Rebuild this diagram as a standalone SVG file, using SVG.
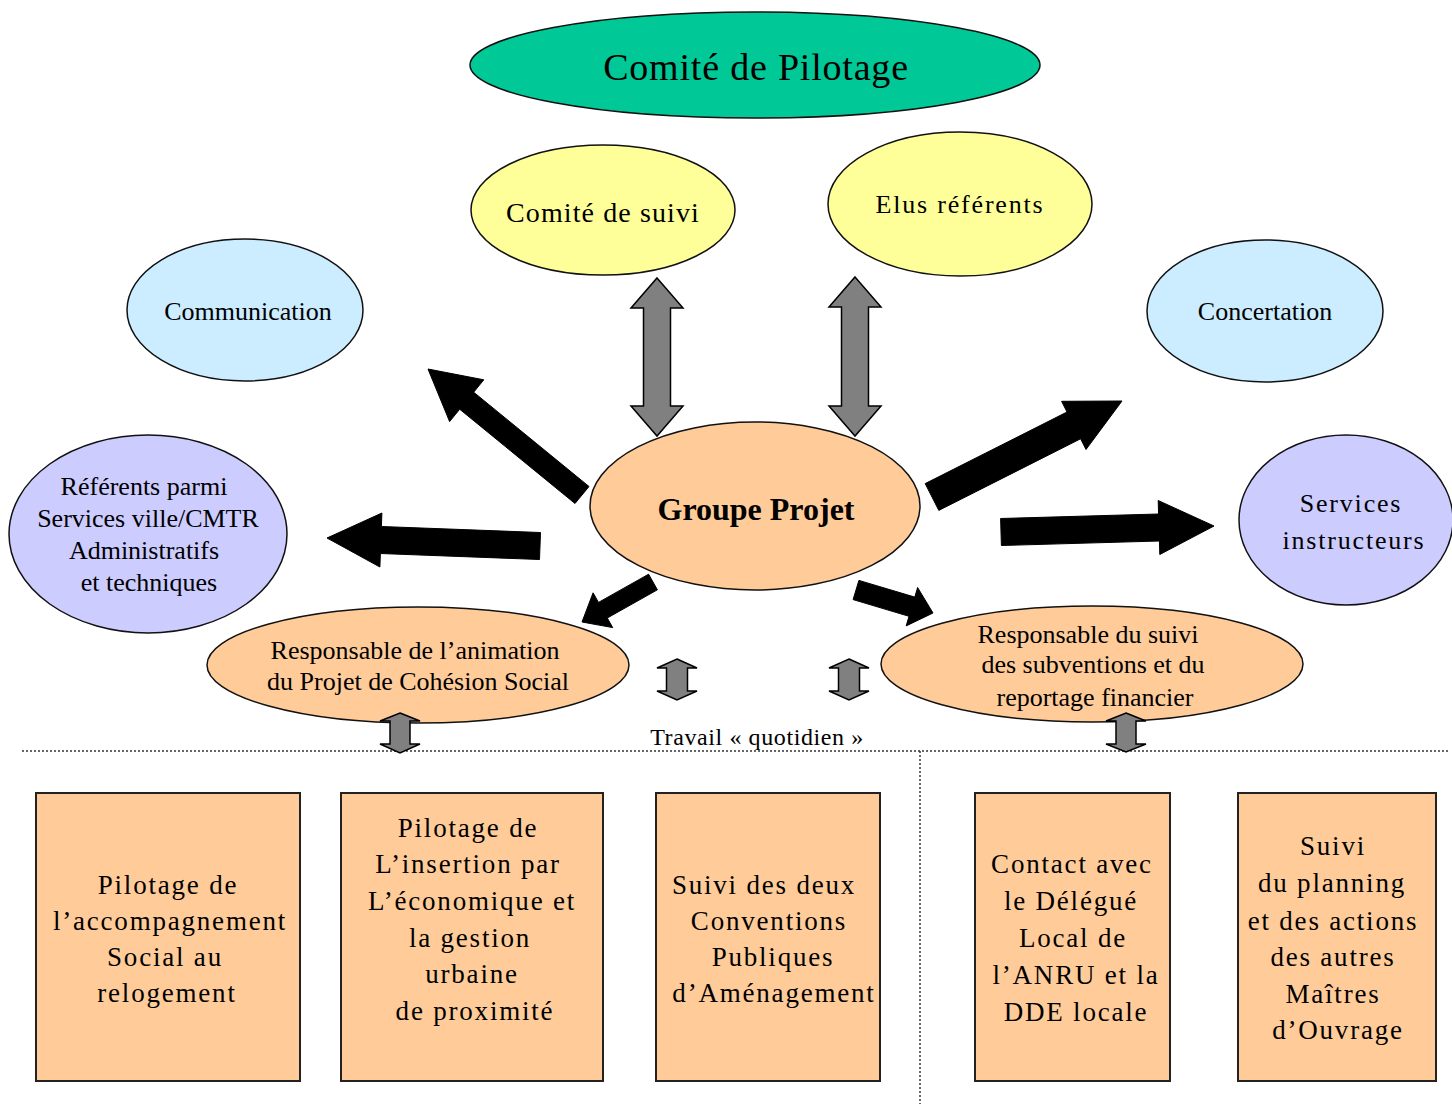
<svg xmlns="http://www.w3.org/2000/svg" width="1452" height="1104" viewBox="0 0 1452 1104">
<style>
text{font-family:"Liberation Serif","Times New Roman",serif;fill:#000;text-anchor:middle}
.el{stroke:#111;stroke-width:1.5}
.teal{fill:#00C896}
.yel{fill:#FFFF99}
.blue{fill:#CCECFF}
.lav{fill:#CCCCFF}
.peach{fill:#FFCC99}
.box{fill:#FFCC99;stroke:#222;stroke-width:2}
.t26{font-size:26px}
.bx{font-size:27px;letter-spacing:1.8px}
.blk{fill:#000;stroke:#000;stroke-width:1}
.gry{fill:#808080;stroke:#000;stroke-width:1.5;stroke-linejoin:miter}
.dot{stroke:#333;stroke-width:1.5;stroke-dasharray:2 2;fill:none}
</style>

<g id="comite-pilotage">
<ellipse class="el teal" cx="755" cy="65" rx="285" ry="53"/>
<text x="756" y="80" style="font-size:38px;letter-spacing:0.8px">Comité de Pilotage</text>
</g>

<g id="comite-suivi">
<ellipse class="el yel" cx="603" cy="210" rx="132" ry="65"/>
<text x="603" y="222" style="font-size:28px;letter-spacing:1.1px">Comité de suivi</text>
</g>

<g id="elus-referents">
<ellipse class="el yel" cx="960" cy="204" rx="132" ry="72"/>
<text x="960" y="213" style="font-size:26px;letter-spacing:1.8px">Elus référents</text>
</g>

<g id="communication">
<ellipse class="el blue" cx="245" cy="310" rx="118" ry="71"/>
<text x="248" y="320" class="t26">Communication</text>
</g>

<g id="concertation">
<ellipse class="el blue" cx="1265" cy="311" rx="118" ry="71"/>
<text x="1265" y="320" class="t26">Concertation</text>
</g>

<g id="referents">
<ellipse class="el lav" cx="148" cy="534" rx="139" ry="99"/>
<text x="144" y="495" class="t26">Référents parmi</text>
<text x="148" y="527" class="t26">Services ville/CMTR</text>
<text x="144" y="559" class="t26">Administratifs</text>
<text x="149" y="591" class="t26">et techniques</text>
</g>

<g id="services-instructeurs">
<ellipse class="el lav" cx="1346" cy="520" rx="107" ry="85"/>
<text x="1351" y="512" style="font-size:26px;letter-spacing:1.8px">Services</text>
<text x="1354" y="549" style="font-size:26px;letter-spacing:1.8px">instructeurs</text>
</g>

<g id="groupe-projet">
<ellipse class="el peach" cx="755" cy="506" rx="165" ry="84"/>
<text x="756" y="520" style="font-size:32px;font-weight:bold">Groupe Projet</text>
</g>

<g id="resp-animation">
<ellipse class="el peach" cx="418" cy="665" rx="211" ry="58"/>
<text x="415" y="659" class="t26">Responsable de l’animation</text>
<text x="418" y="690" class="t26">du Projet de Cohésion Social</text>
</g>

<g id="resp-suivi">
<ellipse class="el peach" cx="1092" cy="664" rx="211" ry="58"/>
<text x="1088" y="643" class="t26">Responsable du suivi</text>
<text x="1093" y="673" class="t26">des subventions et du</text>
<text x="1095" y="706" class="t26">reportage financier</text>
</g>

<g id="separateurs">
<line class="dot" x1="22" y1="751" x2="1450" y2="751"/>
<line class="dot" x1="920" y1="751" x2="920" y2="1104"/>
<text x="757" y="745" style="font-size:24px;letter-spacing:0.6px">Travail « quotidien »</text>
</g>

<g id="box-relogement">
<rect class="box" x="36" y="793" width="264" height="288"/>
<text class="bx" x="168" y="894">Pilotage de</text>
<text class="bx" x="170" y="930">l’accompagnement</text>
<text class="bx" x="165" y="966">Social au</text>
<text class="bx" x="167" y="1002">relogement</text>
</g>

<g id="box-insertion">
<rect class="box" x="341" y="793" width="262" height="288"/>
<text class="bx" x="468" y="837">Pilotage de</text>
<text class="bx" x="468" y="873">L’insertion par</text>
<text class="bx" x="472" y="910">L’économique et</text>
<text class="bx" x="470" y="947">la gestion</text>
<text class="bx" x="472" y="983">urbaine</text>
<text class="bx" x="475" y="1020">de proximité</text>
</g>

<g id="box-conventions">
<rect class="box" x="656" y="793" width="224" height="288"/>
<text class="bx" x="764" y="894">Suivi des deux</text>
<text class="bx" x="769" y="930">Conventions</text>
<text class="bx" x="773" y="966">Publiques</text>
<text class="bx" x="774" y="1002">d’Aménagement</text>
</g>

<g id="box-anru">
<rect class="box" x="975" y="793" width="195" height="288"/>
<text class="bx" x="1072" y="873">Contact avec</text>
<text class="bx" x="1071" y="910">le Délégué</text>
<text class="bx" x="1073" y="947">Local de</text>
<text class="bx" x="1076" y="984">l’ANRU et la</text>
<text class="bx" x="1076" y="1021">DDE locale</text>
</g>

<g id="box-planning">
<rect class="box" x="1238" y="793" width="198" height="288"/>
<text class="bx" x="1333" y="855">Suivi</text>
<text class="bx" x="1332" y="892">du planning</text>
<text class="bx" x="1333" y="930">et des actions</text>
<text class="bx" x="1333" y="966">des autres</text>
<text class="bx" x="1333" y="1003">Maîtres</text>
<text class="bx" x="1338" y="1039">d’Ouvrage</text>
</g>

<g id="connectors">
<polygon class="blk" points="589.0,486.5 473.7,392.2 483.8,379.8 428,369 449.6,421.6 459.7,409.2 575.0,503.5"/>
<polygon class="blk" points="540.5,532.5 381.4,526.5 381.9,513.0 327,538 379.9,567.0 380.4,553.5 539.5,559.5"/>
<polygon class="blk" points="938.8,510.4 1080.6,438.8 1086.0,449.5 1122,401 1061.6,401.3 1067.0,412.0 925.2,483.6"/>
<polygon class="blk" points="1001.4,545.5 1159.4,541.0 1159.8,554.5 1214,526 1158.2,500.5 1158.6,514.0 1000.6,518.5"/>
<polygon class="blk" points="648.6,574.2 598.5,602.4 593.1,592.8 582,622 612.7,627.6 607.3,618.0 657.4,589.8"/>
<polygon class="blk" points="853.1,599.6 909.0,616.3 906.2,625.9 933,613 917.6,587.5 914.8,597.1 858.9,580.4"/>

<polygon class="gry" points="657,278 683,308 670.5,308 670.5,406 683,406 657,436 631,406 643.5,406 643.5,308 631,308"/>
<polygon class="gry" points="855,277 881,307 868.5,307 868.5,406 881,406 855,436 829,406 841.5,406 841.5,307 829,307"/>
<polygon class="gry" points="677,659 697,668 687.5,668 687.5,691 697,691 677,700 657,691 666.5,691 666.5,668 657,668"/>
<polygon class="gry" points="849,659 869,668 859.5,668 859.5,691 869,691 849,700 829,691 838.5,691 838.5,668 829,668"/>
<polygon class="gry" points="400,713 420,721 410,721 410,744 420,744 400,753 380,744 390,744 390,721 380,721"/>
<polygon class="gry" points="1126,713 1146,721 1136,721 1136,744 1146,744 1126,752 1106,744 1116,744 1116,721 1106,721"/>
</g>
</svg>
